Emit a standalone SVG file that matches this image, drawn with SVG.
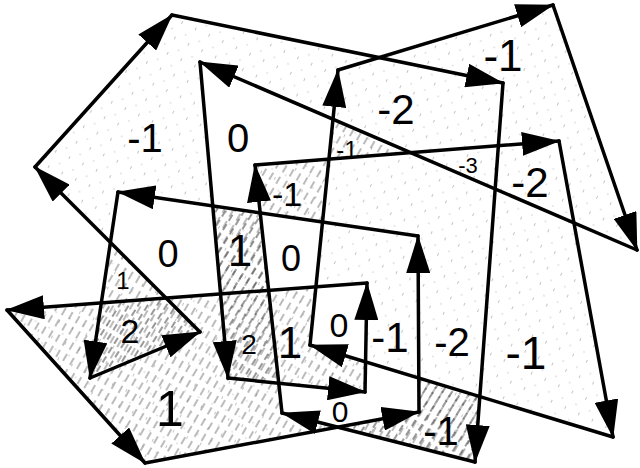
<svg xmlns="http://www.w3.org/2000/svg" width="640" height="468" viewBox="0 0 640 468">
<style>
.edge{stroke:#000;stroke-width:3.5;stroke-linecap:round;fill:none;marker-end:url(#ah)}
.lbl{font-family:"Liberation Sans",Arial,sans-serif;fill:#000;text-anchor:middle}
</style>
<defs>
<marker id="ah" viewBox="0 0 38 24" refX="37" refY="12" markerWidth="38" markerHeight="24" markerUnits="userSpaceOnUse" orient="auto">
<path d="M0,0 L38,12 L0,24 Z" fill="#000"/>
</marker>
<pattern id="dots" patternUnits="userSpaceOnUse" width="15" height="17" patternTransform="rotate(25)">
<circle cx="3" cy="4" r="0.6" fill="#999"/>
<rect x="9" y="10" width="0.7" height="3" fill="#aaa"/>
</pattern>
<pattern id="hatch" patternUnits="userSpaceOnUse" width="8" height="13" patternTransform="rotate(30)">
<line x1="3" y1="0" x2="3" y2="8" stroke="#555" stroke-width="0.8"/>
</pattern>
<pattern id="hatch2" patternUnits="userSpaceOnUse" width="8" height="11" patternTransform="rotate(32) translate(4,4)">
<line x1="3" y1="0" x2="3" y2="7" stroke="#333" stroke-width="1"/>
</pattern>
</defs>
<rect width="640" height="468" fill="#fff"/>
<g id="shading">
<path d="M553,5 L637,250 L200,62 L228,378 L365,392 L367,283 L7,310 L145,463 L419,412 L418,236 L118,192 L90,378 L200,332 L35,167 L172,15 L503,83 L475,462 L282,413 L255,165 L559,141 L613,437 L310,345 L338,70 Z" fill="url(#dots)" fill-rule="nonzero"/>
<path d="M7,310 L145,463 L337.7,427.1 L282,413 L278.7,383.2 L365,392 L366,362 L310,345 L315.9,286.8 L268.6,290.4 L260.2,212.9 L212.8,206 L220.6,294 L166.1,298.1 L110.4,242.4 L101.3,302.9 Z" fill="url(#hatch)"/>
<path d="M255,165 L328.9,159.2 L322.5,222 L260.2,212.9 Z" fill="url(#hatch)"/>
<path d="M332.9,120.4 L407.1,153.1 L328.9,159.2 Z" fill="url(#hatch)"/>
<path d="M337.7,427.1 L419,412 L419,378.1 L479.9,396.6 L475,462 Z" fill="url(#hatch)"/>
<path d="M101.3,302.9 L166.1,298.1 L200,332 L90,378 Z" fill="url(#hatch2)"/>
<path d="M220.6,294 L268.6,290.4 L278.7,383.2 L228,378 Z" fill="url(#hatch2)"/>
<path d="M212.8,206 L260.2,212.9 L268.6,290.4 L220.6,294 Z" fill="url(#hatch2)"/>
<path d="M337.7,427.1 L419,412 L419,378.1 L479.9,396.6 L475,462 Z" fill="url(#hatch2)"/>
</g>
<g id="connectors">
<line class="edge" x1="338" y1="70" x2="553" y2="5"/>
<line class="edge" x1="553" y1="5" x2="637" y2="250"/>
<line class="edge" x1="637" y1="250" x2="200" y2="62"/>
<line class="edge" x1="200" y1="62" x2="228" y2="378"/>
<line class="edge" x1="228" y1="378" x2="365" y2="392"/>
<line class="edge" x1="365" y1="392" x2="367" y2="283"/>
<line class="edge" x1="367" y1="283" x2="7" y2="310"/>
<line class="edge" x1="7" y1="310" x2="145" y2="463"/>
<line class="edge" x1="145" y1="463" x2="419" y2="412"/>
<line class="edge" x1="419" y1="412" x2="418" y2="236"/>
<line class="edge" x1="418" y1="236" x2="118" y2="192"/>
<line class="edge" x1="118" y1="192" x2="90" y2="378"/>
<line class="edge" x1="90" y1="378" x2="200" y2="332"/>
<line class="edge" x1="200" y1="332" x2="35" y2="167"/>
<line class="edge" x1="35" y1="167" x2="172" y2="15"/>
<line class="edge" x1="172" y1="15" x2="503" y2="83"/>
<line class="edge" x1="503" y1="83" x2="475" y2="462"/>
<line class="edge" x1="475" y1="462" x2="282" y2="413"/>
<line class="edge" x1="282" y1="413" x2="255" y2="165"/>
<line class="edge" x1="255" y1="165" x2="559" y2="141"/>
<line class="edge" x1="559" y1="141" x2="613" y2="437"/>
<line class="edge" x1="613" y1="437" x2="310" y2="345"/>
<line class="edge" x1="310" y1="345" x2="338" y2="70"/>
</g>
<g id="labels">
<text class="lbl" x="145" y="152" font-size="40">-1</text>
<text class="lbl" x="238" y="152" font-size="40">0</text>
<text class="lbl" x="347" y="158" font-size="24">-1</text>
<text class="lbl" x="396" y="124" font-size="42">-2</text>
<text class="lbl" x="503" y="71" font-size="44">-1</text>
<text class="lbl" x="468" y="173" font-size="22">-3</text>
<text class="lbl" x="530" y="197" font-size="42">-2</text>
<text class="lbl" x="287" y="206" font-size="34">-1</text>
<text class="lbl" x="240" y="266" font-size="44">1</text>
<text class="lbl" x="291" y="271" font-size="36">0</text>
<text class="lbl" x="168" y="267" font-size="38">0</text>
<text class="lbl" x="123" y="289" font-size="24">1</text>
<text class="lbl" x="130" y="343" font-size="34">2</text>
<text class="lbl" x="170" y="426" font-size="50">1</text>
<text class="lbl" x="249" y="354" font-size="28">2</text>
<text class="lbl" x="290" y="358" font-size="44">1</text>
<text class="lbl" x="339" y="337" font-size="34">0</text>
<text class="lbl" x="390" y="352" font-size="42">-1</text>
<text class="lbl" x="452" y="356" font-size="40">-2</text>
<text class="lbl" x="526" y="369" font-size="46">-1</text>
<text class="lbl" x="340" y="422" font-size="30">0</text>
<text class="lbl" x="441" y="445" font-size="40">-1</text>
</g>
</svg>
